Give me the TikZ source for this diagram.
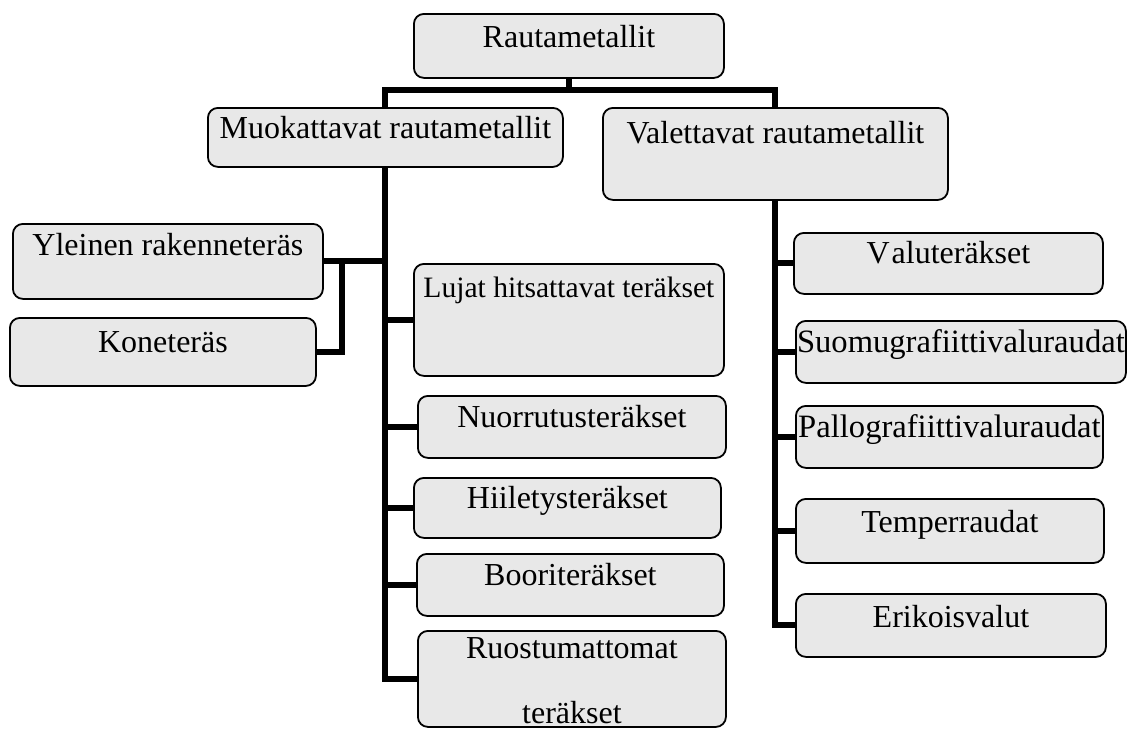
\documentclass[tikz,border=0pt]{standalone}
\usepackage{fontspec}
\setmainfont{Liberation Serif}
\definecolor{boxgray}{HTML}{E8E8E8}
\begin{document}
\begin{tikzpicture}[x=0.5pt, y=-0.5pt,
  box/.style={draw, line width=0.9pt, rounded corners=5pt, fill=boxgray, anchor=north west, inner sep=0pt},
  txt/.style={anchor=base, inner sep=0pt, font=\fontsize{16}{19}\selectfont},
  conn/.style={line width=3pt}]
\useasboundingbox (0,0) rectangle (1127,728);
% laatikot
\node[box, minimum width=155pt, minimum height=32pt] (rauta) at (413,13) {};
\node[box, minimum width=177.5pt, minimum height=29.5pt] (muok) at (207,107) {};
\node[box, minimum width=172.5pt, minimum height=46pt] (valet) at (602,107) {};
\node[box, minimum width=155pt, minimum height=37.5pt] (ylei) at (12,223) {};
\node[box, minimum width=153pt, minimum height=34pt] (kone) at (9,317) {};
\node[box, minimum width=155pt, minimum height=56pt] (lujat) at (413,263) {};
\node[box, minimum width=154pt, minimum height=31pt] (nuor) at (417,395) {};
\node[box, minimum width=153.5pt, minimum height=30pt] (hiil) at (413,477) {};
\node[box, minimum width=153.5pt, minimum height=31pt] (boor) at (416,553) {};
\node[box, minimum width=154pt, minimum height=48pt] (ruos) at (417,630) {};
\node[box, minimum width=154.5pt, minimum height=30.5pt] (valu) at (793,232) {};
\node[box, minimum width=165pt, minimum height=31pt] (suom) at (795,320) {};
\node[box, minimum width=153.5pt, minimum height=31pt] (pall) at (795,405) {};
\node[box, minimum width=154pt, minimum height=32pt] (temp) at (795,498) {};
\node[box, minimum width=155pt, minimum height=31.5pt] (erik) at (795,593) {};
% tekstit
\node[txt] (rautaT) at (rauta.center |- 0,47) {Rautametallit};
\node[txt] (muokT) at (muok.center |- 0,138) {Muokattavat rautametallit};
\node[txt] (valetT) at (valet.center |- 0,143) {Valettavat rautametallit};
\node[txt] (yleiT) at (ylei.center |- 0,255) {Yleinen rakenneteräs};
\node[txt] (koneT) at (kone.center |- 0,352) {Koneteräs};
\node[txt, font=\fontsize{14.8}{18}\selectfont] (lujatT) at (lujat.center |- 0,297) {Lujat hitsattavat teräkset};
\node[txt] (nuorT) at (nuor.center |- 0,427) {Nuorrutusteräkset};
\node[txt] (hiilT) at (hiil.center |- 0,508) {Hiiletysteräkset};
\node[txt] (boorT) at (boor.center |- 0,585) {Booriteräkset};
\node[txt] (ruosT) at (ruos.center |- 0,658) {Ruostumattomat};
\node[txt] (ruosT2) at (ruos.center |- 0,723) {teräkset};
\node[txt] (valuT) at (valu.center |- 0,263) {V\kern1pt aluteräkset};
\node[txt, font=\fontsize{16.3}{19}\selectfont] (suomT) at (suom.center |- 0,352) {Suomugrafiittivaluraudat};
\node[txt, font=\fontsize{16.3}{19}\selectfont] (pallT) at (pall.center |- 0,437) {Pallografiittivaluraudat};
\node[txt] (tempT) at (temp.center |- 0,532) {Temperraudat};
\node[txt] (erikT) at (erik.center |- 0,627) {Erikoisvalut};
% viivat
\coordinate (top) at (rauta.south |- 0,90);
\draw[conn] (rauta.south) -- (top);
\draw[conn] (muok.north) |- (top) -| (valet.north);
\draw[conn] (muok.south) |- (ruos.west);
\foreach \n in {lujat,nuor,hiil,boor}
  \draw[conn] (\n.west) -- (\n.west -| muok.south);
\draw[conn] (ylei.east) -- (ylei.east -| muok.south);
\draw[conn] (kone.east) -| ([xshift=9pt]ylei.east);
\draw[conn] (valet.south) |- (erik.west);
\foreach \n in {valu,suom,pall,temp}
  \draw[conn] (\n.west) -- (\n.west -| valet.south);
\end{tikzpicture}
\end{document}
